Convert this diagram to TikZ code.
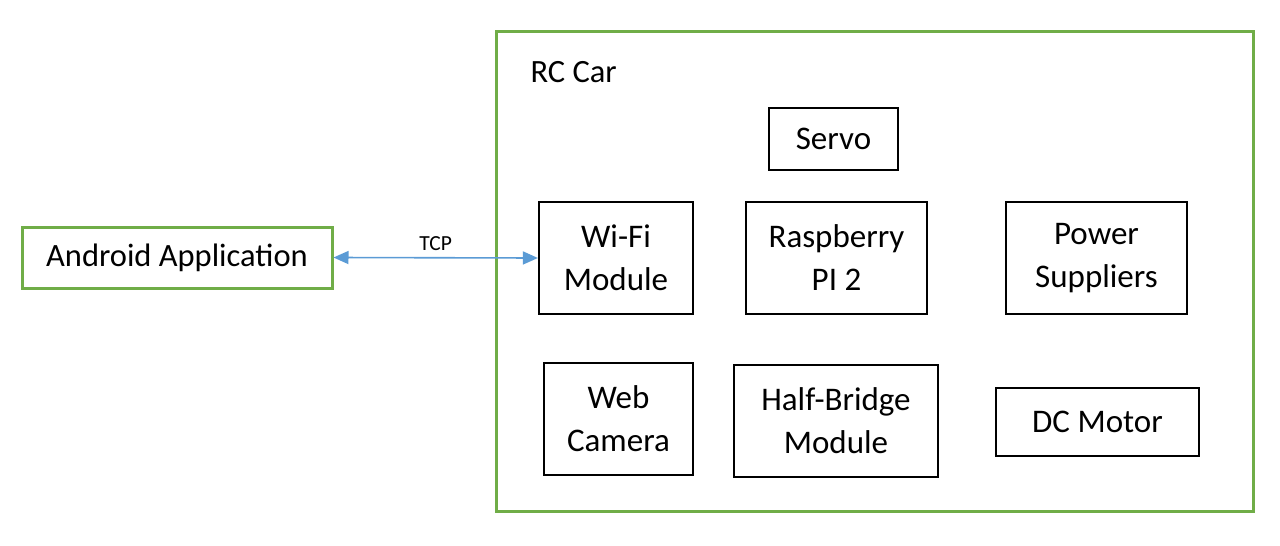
\documentclass[tikz,border=0pt]{standalone}
\usepackage{fontspec}
\setmainfont{Carlito}
\usetikzlibrary{arrows.meta}
\definecolor{offgreen}{HTML}{70AD47}
\definecolor{offblue}{HTML}{5B9BD5}
\begin{document}
\begin{tikzpicture}[x=1pt,y=-1pt,
  blk/.style={draw=black,line width=2.2pt,align=center,inner sep=0pt,font=\fontsize{33}{43}\selectfont},
  grn/.style={draw=offgreen,line width=3pt},
  link/.style={draw=offblue,line width=1.6pt,{Triangle[length=15pt,width=13pt]}-{Triangle[length=15pt,width=13pt]}}]
\useasboundingbox (0,0) rectangle (1280,546);
\node[grn,minimum width=757pt,minimum height=480pt,inner sep=0pt] (car) at (874.5,271) {};
\node[anchor=west,font=\fontsize{32.5}{36}\selectfont] (carlbl) at (527,72) {RC Car};
\node[grn,minimum width=310pt,minimum height=61pt,inner sep=0pt,font=\fontsize{32.5}{36}\selectfont] (android) at (177,257.5) {Android Application};
\node[blk,minimum width=129pt,minimum height=62pt] (servo) at (833.5,139) {Servo};
\node[blk,minimum width=154pt,minimum height=112pt] (wifi) at (616,258) {Wi-Fi\\Module};
\node[blk,minimum width=181pt,minimum height=112pt] (rpi) at (836.5,258) {Raspberry\\PI 2};
\node[blk,minimum width=181pt,minimum height=112pt] (power) at (1096.5,258) {Power\\Suppliers};
\node[blk,minimum width=149pt,minimum height=112pt] (cam) at (618.5,419) {Web\\Camera};
\node[blk,minimum width=204pt,minimum height=112pt] (hb) at (836,421) {Half-Bridge\\Module};
\node[blk,minimum width=203pt,minimum height=68pt] (dc) at (1097.5,422) {DC Motor};
\draw[link] (android.east) -- (wifi.west) node[midway,above=3pt,text=black,font=\fontsize{21.5}{24}\selectfont] (tcp) {TCP};
\end{tikzpicture}
\end{document}
